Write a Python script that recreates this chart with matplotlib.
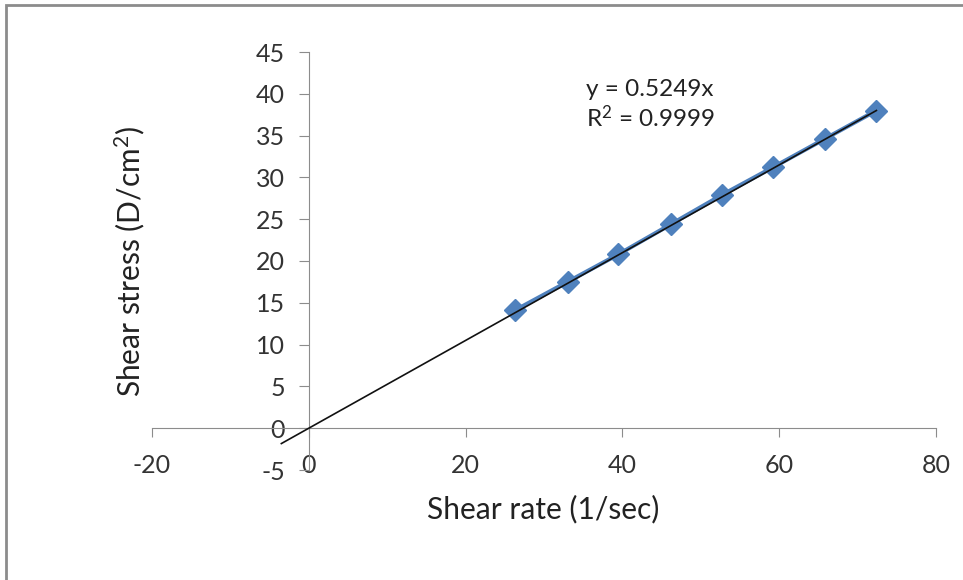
import matplotlib
matplotlib.use("Agg")
import matplotlib.pyplot as plt
import matplotlib.transforms as mtrans
import numpy as np
from matplotlib.patches import Rectangle

shear_rate = [26.3, 33.0, 39.5, 46.2, 52.7, 59.2, 65.8, 72.4]
shear_stress = [14.1, 17.5, 20.8, 24.4, 27.9, 31.2, 34.6, 38.0]
slope = 0.5249
trend_start = -3.5
x_ticks = [-20, 0, 20, 40, 60, 80]
y_ticks = [-5, 0, 5, 10, 15, 20, 25, 30, 35, 40, 45]

plt.rcParams['font.family'] = ['Lato', 'DejaVu Sans']
plt.rcParams['axes.unicode_minus'] = False
plt.rcParams['mathtext.fontset'] = 'custom'
plt.rcParams['mathtext.rm'] = 'Lato'
plt.rcParams['mathtext.it'] = 'Lato'
plt.rcParams['mathtext.default'] = 'regular'

W, H = 963, 580
fig = plt.figure(figsize=(W / 100, H / 100), dpi=100)
fig.patches.append(Rectangle((6 / W, -0.2), 1.2, 0.2 + (H - 5) / H, transform=fig.transFigure,
                             fill=False, edgecolor='#8c8c8c', linewidth=2))

ax = fig.add_axes([152 / W, (H - 470) / H, (936 - 152) / W, (470 - 52) / H])
ax.set_xlim(-20, 80)
ax.set_ylim(-5, 45)

axis_col = '#8c8c8c'
for s in ['top', 'right']:
    ax.spines[s].set_visible(False)
ax.spines['left'].set_position(('data', 0))
ax.spines['bottom'].set_position(('data', 0))
ax.spines['left'].set_color(axis_col)
ax.spines['bottom'].set_color(axis_col)

ax.set_xticks(x_ticks)
ax.set_yticks(y_ticks)
ax.tick_params(axis='x', direction='out', length=6.5, color=axis_col, labelsize=18,
               labelcolor='#333333', pad=12)
ax.tick_params(axis='y', direction='out', length=7, color=axis_col, labelsize=18,
               labelcolor='#333333', pad=10)

xs = np.array(shear_rate)
ax.plot(xs, shear_stress, color='#4f81bd', lw=3, marker='D', markersize=11,
        markerfacecolor='#4f81bd', markeredgecolor='#4f81bd', zorder=3)
xt = np.array([trend_start, max(shear_rate)])
ax.plot(xt, slope * xt, color='#111111', lw=1.2, zorder=4)

ident = mtrans.IdentityTransform()
ax.text(586, H - 90, 'y = 0.5249x', transform=ident, fontsize=17.5, color='#222222',
        va='center', ha='left')
ax.text(586, H - 118, 'R$^2$ = 0.9999', transform=ident,
        fontsize=17.5, color='#222222', va='center', ha='left')

ax.set_xlabel('Shear rate (1/sec)', fontsize=21.5, color='#222222')
ax.xaxis.set_label_coords((543 - 152) / 784, -(495 - 470) / 418)
ax.set_ylabel('Shear stress (D/cm$^2$)', fontsize=21.5, color='#222222')
ax.yaxis.set_label_coords((147 - 152) / 784, (470 - 262) / 418)

fig.savefig('out.png', dpi=100)
